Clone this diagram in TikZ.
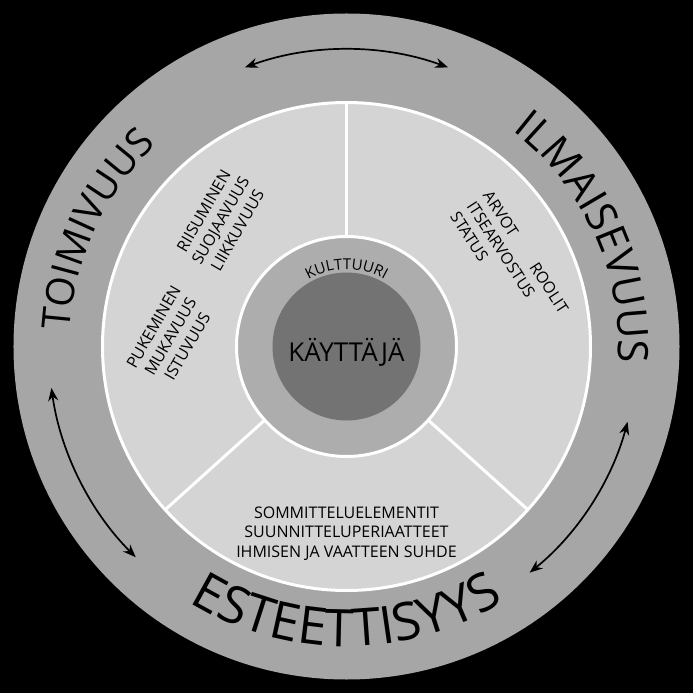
\documentclass[tikz,border=0pt]{standalone}
\usepackage{fontspec}
\setmainfont{Open Sans}
\usetikzlibrary{decorations.text,arrows.meta}
\begin{document}
\begin{tikzpicture}[x=1pt,y=1pt,
  sep/.style={draw=white,line width=3pt},
  inner/.style={font=\fontsize{16}{19.5}\selectfont,align=center,inner sep=0pt},
  dbl/.style={{Stealth[length=13pt,width=10pt]}-{Stealth[length=13pt,width=10pt]},line width=1.7pt,black}]
\fill[black] (-346.5,-346.5) rectangle (346.5,346.5);
\useasboundingbox (-346.5,-346.5) rectangle (346.5,346.5);
\fill[black!35] (0,0) circle[radius=333];
\filldraw[fill=black!17,draw=white,line width=3pt] (0,0) circle[radius=244];
\coordinate (o) at (0,0);
\draw[sep] (90:110) -- (90:244);
\draw[sep] (222:110) -- (222:244);
\draw[sep] (-42:110) -- (-42:244);
\filldraw[fill=black!32,draw=white,line width=3pt] (0,0) circle[radius=110];
\fill[black!55] (0,0) circle[radius=74];
\node[font=\fontsize{26}{28}\selectfont] (user) at (0,-6) {KÄYTTÄJÄ};
\path[decorate,decoration={text along path,text align=center,
  text={|\fontsize{15}{15}\selectfont|KULTTUURI}}]
  (140:77) arc[start angle=140,end angle=40,radius=77];
\path[decorate,decoration={text along path,text align=center,
  text={|\fontsize{39}{39}\selectfont|TOIMIVUUS}}]
  (215:277) arc[start angle=215,end angle=95,radius=277];
\path[decorate,decoration={text along path,text align=center,
  text={|\fontsize{42}{42}\selectfont|ILMAISEVUUS}}]
  (85:272) arc[start angle=85,end angle=-36,radius=272];
\path[decorate,decoration={text along path,text align=center,
  text={|\fontsize{52}{52}\selectfont|ESTEETTISYYS}}]
  (215:300) arc[start angle=215,end angle=325,radius=300];
\node[inner,rotate=60] (t1) at (-126,126) {RIISUMINEN\\SUOJAAVUUS\\LIIKKUVUUS};
\node[inner,rotate=60] (t2) at (-176,10) {PUKEMINEN\\MUKAVUUS\\ISTUVUUS};
\node[inner,rotate=-57,align=left] (t3) at (163,84) {ARVOT\hspace{2.2em}ROOLIT\\ITSEARVOSTUS\\STATUS};
\node[inner] (t4) at (0,-187) {SOMMITTELUELEMENTIT\\SUUNNITTELUPERIAATTEET\\IHMISEN JA VAATTEEN SUHDE};
\draw[dbl] (110:297) arc[start angle=110,end angle=70,radius=297];
\draw[dbl] (188:298) arc[start angle=188,end angle=225,radius=298];
\draw[dbl] (-15:291) arc[start angle=-15,end angle=-51,radius=291];
\end{tikzpicture}
\end{document}
